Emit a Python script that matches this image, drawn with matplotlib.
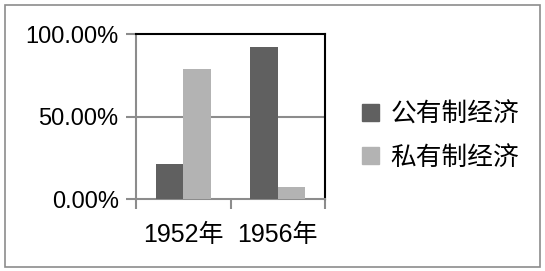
import matplotlib
matplotlib.use('Agg')
import matplotlib.pyplot as plt
from matplotlib.patches import Patch, Rectangle
from matplotlib.ticker import PercentFormatter

years = ['1952年', '1956年']
series = ['公有制经济', '私有制经济']
public = [21.3, 92.1]
private = [78.5, 7.5]
colors = ['#606060', '#b3b3b3']

FONTS = ['Liberation Sans', 'Noto Sans CJK SC']
plt.rcParams['font.family'] = FONTS

fig = plt.figure(figsize=(5.45, 2.71), dpi=100)
fig.patches.append(Rectangle((5/545, 4/271), 535/545, 262/271, transform=fig.transFigure,
                             fill=False, edgecolor='#8c8c8c', linewidth=1.2))

ax = fig.add_axes([136/545, 72/271, 189/545, 165/271])
w = 0.29
xs = [0.5, 1.5]
ax.bar([x - w/2 for x in xs], public, w, color=colors[0], zorder=3)
ax.bar([x + w/2 for x in xs], private, w, color=colors[1], zorder=3)

ax.set_xlim(0, 2)
ax.set_ylim(0, 100)
ax.set_yticks([0, 50, 100])
ax.yaxis.set_major_formatter(PercentFormatter(decimals=2))
ax.axhline(50, color='#8c8c8c', linewidth=1.5, zorder=1)

ax.set_xticks([0, 1, 2])
ax.set_xticklabels([])
ax.set_xticks(xs, minor=True)
ax.set_xticklabels(years, minor=True)
ax.tick_params(axis='x', which='major', length=7.5, width=1.5, color='#8c8c8c')
ax.tick_params(axis='x', which='minor', length=0, pad=17, labelsize=18)
ax.tick_params(axis='y', length=7.5, width=1.5, color='#8c8c8c', labelsize=17, pad=5)

for s in ['left', 'bottom']:
    ax.spines[s].set_color('#8c8c8c')
    ax.spines[s].set_linewidth(1.5)
for s in ['top', 'right']:
    ax.spines[s].set_color('black')
    ax.spines[s].set_linewidth(1.5)

handles = [Patch(color=c) for c in colors]
fig.legend(handles, series, loc='center left', bbox_to_anchor=(339/545, 1 - 136/271),
           frameon=False, fontsize=18.5, handlelength=0.65, handleheight=0.65,
           handletextpad=0.45, labelspacing=0.75)

fig.savefig('out.png', dpi=100)
